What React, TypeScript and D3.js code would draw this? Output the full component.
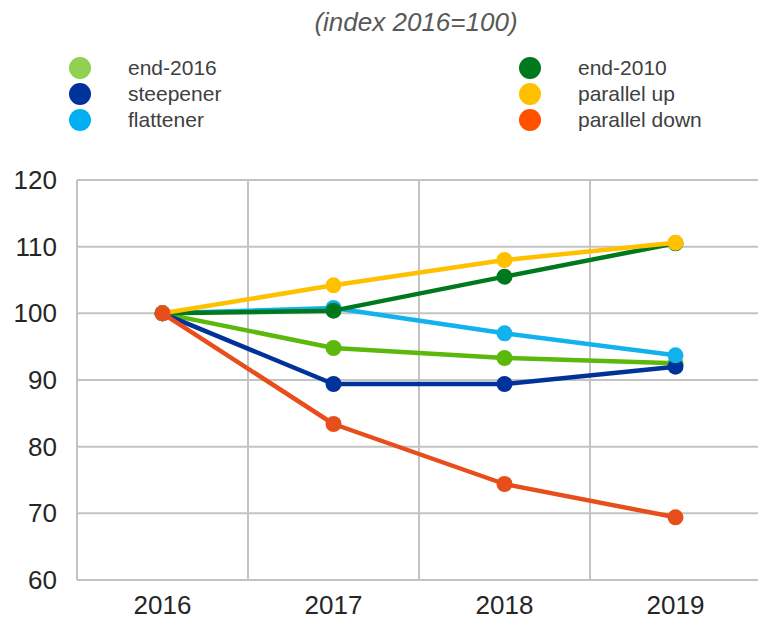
import React, { useEffect, useRef } from 'react';
import * as d3 from 'd3';

const years = ['2016', '2017', '2018', '2019'];

const seriesNames = ['end-2016', 'steepener', 'flattener', 'end-2010', 'parallel up', 'parallel down'];
const end2016 = [100, 94.8, 93.3, 92.5];
const steepener = [100, 89.4, 89.4, 92.0];
const flattener = [100, 100.8, 97.0, 93.7];
const end2010 = [100, 100.4, 105.5, 110.5];
const parallelUp = [100, 104.2, 108.0, 110.6];
const parallelDown = [100, 83.4, 74.4, 69.4];

const lineColors = ['#5cb80a', '#003399', '#12b2ee', '#00791e', '#ffc000', '#e84e1b'];
const legendColors = ['#92d050', '#003399', '#00b0f0', '#00791e', '#ffc000', '#ff5000'];

const yTicks = [60, 70, 80, 90, 100, 110, 120];

const W = 758;
const H = 621;

const App: React.FC = () => {
  const svgRef = useRef<SVGSVGElement>(null);

  useEffect(() => {
    if (!svgRef.current) return;
    const svg = d3.select(svgRef.current);
    svg.selectAll('*').remove();

    const font = 'Liberation Sans, Arial, sans-serif';
    const values = [end2016, steepener, flattener, end2010, parallelUp, parallelDown];
    const series = seriesNames.map((name, i) => ({ name, values: values[i], color: lineColors[i], legend: legendColors[i] }));

    const x = d3.scaleBand<string>().domain(years).range([77, 761]).padding(0);
    const y = d3.scaleLinear().domain([60, 120]).range([580, 180]);
    const cx = (d: string) => (x(d) as number) + x.bandwidth() / 2;

    // title
    svg.append('text')
      .attr('x', 416)
      .attr('y', 31)
      .attr('text-anchor', 'middle')
      .style('font-family', font)
      .style('font-style', 'italic')
      .style('font-size', '26px')
      .attr('fill', '#595959')
      .text('(index 2016=100)');

    // legend, two columns of three
    const legend = svg.append('g');
    series.forEach((s, i) => {
      const col = Math.floor(i / 3);
      const row = i % 3;
      const gx = col === 0 ? 80 : 530;
      const gy = 68 + row * 26;
      legend.append('circle')
        .attr('cx', gx)
        .attr('cy', gy)
        .attr('r', 11)
        .attr('fill', s.legend);
      legend.append('text')
        .attr('x', gx + 48)
        .attr('y', gy + 7)
        .style('font-family', font)
        .style('font-size', '21px')
        .attr('fill', '#404040')
        .text(s.name);
    });

    // grid
    const grid = svg.append('g').attr('stroke', '#c3c3c3').attr('stroke-width', 2);
    grid.selectAll('.h')
      .data(yTicks)
      .enter()
      .append('line')
      .attr('x1', 77)
      .attr('x2', W)
      .attr('y1', d => y(d))
      .attr('y2', d => y(d));
    grid.selectAll('.v')
      .data(years)
      .enter()
      .append('line')
      .attr('x1', d => x(d) as number)
      .attr('x2', d => x(d) as number)
      .attr('y1', y(120))
      .attr('y2', y(60));

    // y labels
    svg.append('g')
      .selectAll('text')
      .data(yTicks)
      .enter()
      .append('text')
      .attr('x', 57)
      .attr('y', d => y(d) + 9)
      .attr('text-anchor', 'end')
      .style('font-family', font)
      .style('font-size', '26px')
      .attr('fill', '#262626')
      .text(d => d);

    // x labels
    svg.append('g')
      .selectAll('text')
      .data(years)
      .enter()
      .append('text')
      .attr('x', d => cx(d))
      .attr('y', 614)
      .attr('text-anchor', 'middle')
      .style('font-family', font)
      .style('font-size', '26px')
      .attr('fill', '#262626')
      .text(d => d);

    // lines + markers
    const line = d3.line<number>()
      .x((_, i) => cx(years[i]))
      .y(d => y(d));

    series.forEach(s => {
      const g = svg.append('g');
      g.append('path')
        .attr('d', line(s.values) as string)
        .attr('fill', 'none')
        .attr('stroke', s.color)
        .attr('stroke-width', 4.5)
        .attr('stroke-linejoin', 'round');
      g.selectAll('circle')
        .data(s.values)
        .enter()
        .append('circle')
        .attr('cx', (_, i) => cx(years[i]))
        .attr('cy', d => y(d))
        .attr('r', 8)
        .attr('fill', s.color);
    });
  }, []);

  return (
    <svg
      ref={svgRef}
      width={W}
      height={H}
      style={{ position: 'absolute', left: 0, top: 0, background: '#fff' }}
    ></svg>
  );
};

export default App;
